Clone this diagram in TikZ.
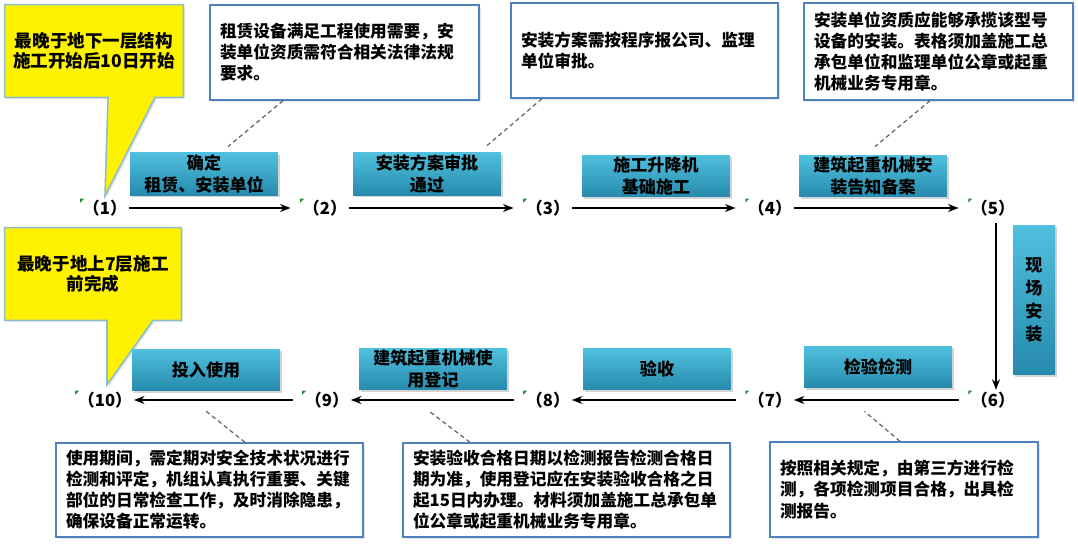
\documentclass[tikz,border=0pt]{standalone}
\usepackage{fontspec}
\setmainfont{Noto Sans CJK SC}
\usetikzlibrary{arrows.meta,shadows,backgrounds}

\definecolor{stepTop}{RGB}{80,192,222}
\definecolor{stepBot}{RGB}{38,138,172}
\definecolor{noteLine}{RGB}{79,129,189}
\definecolor{lateLine}{RGB}{140,190,205}
\definecolor{flagGreen}{RGB}{40,140,50}

\begin{document}
\begin{tikzpicture}[x=0.02cm, y=-0.02cm,
  stepbox/.style  = {top color=stepTop, bottom color=stepBot, draw=none,
                     minimum width=2.96cm, minimum height=0.84cm, inner sep=1pt,
                     align=center, font=\bfseries\fontsize{9.7}{12.5}\selectfont,
                     drop shadow={shadow xshift=1.2pt, shadow yshift=-1.2pt, opacity=.35}},
  note/.style     = {draw=noteLine, line width=0.8pt, fill=white, inner xsep=0.2cm,
                     inner ysep=0pt, align=left, minimum height=1.9cm,
                     font=\bfseries\fontsize{9.5}{12}\selectfont,
                     drop shadow={shadow xshift=1pt, shadow yshift=-1pt, opacity=.2}},
  late/.style     = {inner sep=0pt, minimum width=3.56cm, minimum height=1.84cm,
                     align=center, font=\bfseries\fontsize{10}{11.5}\selectfont},
  latefill/.style = {fill=yellow, draw=lateLine, line width=0.9pt,
                     drop shadow={shadow xshift=1pt, shadow yshift=-1pt, opacity=.2}},
  num/.style      = {inner sep=1pt, font=\bfseries\fontsize{9.5}{9.5}\selectfont},
  flow/.style     = {line width=1pt, -{Stealth[length=6pt,width=4.5pt]}},
  hint/.style     = {draw=black!60, line width=0.7pt, dash pattern=on 2.5pt off 1.8pt},
  flag/.style     = {fill=flagGreen},
]
  \useasboundingbox (0,0) rectangle (1078,550);

  % step numbers
  \node[num] (n1)  at (105,208) {（1）};
  \node[num] (n2)  at (325,208) {（2）};
  \node[num] (n3)  at (548,208) {（3）};
  \node[num] (n4)  at (770,208) {（4）};
  \node[num] (n5)  at (993,208) {（5）};
  \node[num] (n6)  at (993,400) {（6）};
  \node[num] (n7)  at (770,400) {（7）};
  \node[num] (n8)  at (548,400) {（8）};
  \node[num] (n9)  at (327,400) {（9）};
  \node[num] (n10) at (105,400) {（10）};

  \foreach \n in {n1,n2,n3,n4,n5,n6,n7,n8,n9,n10}
    \fill[flag] ([xshift=-0.5pt,yshift=-0.5pt]\n.north west) -- ++(4,0) -- ++(-4,4) -- cycle;

  \draw[flow, shorten >=6pt] (n1) -- (n2);
  \draw[flow, shorten >=6pt] (n2) -- (n3);
  \draw[flow, shorten >=6pt] (n3) -- (n4);
  \draw[flow, shorten >=6pt] (n4) -- (n5);
  \draw[flow, shorten <=3pt] ([xshift=0.06cm]n5.south) -- ([xshift=0.06cm]n6.north);
  \draw[flow, shorten <=6pt] (n6) -- (n7);
  \draw[flow, shorten <=6pt] (n7) -- (n8);
  \draw[flow, shorten <=6pt] (n8) -- (n9);
  \draw[flow, shorten <=6pt] (n9) -- (n10);

  % activities
  \node[stepbox] (s1) at (204,174) {确定\\租赁、安装单位};
  \node[stepbox] (s2) at (427,174) {安装方案审批\\通过};
  \node[stepbox] (s3) at (656,176) {施工升降机\\基础施工};
  \node[stepbox] (s4) at (873,176) {建筑起重机械安\\装告知备案};
  \node[stepbox, minimum width=0.84cm, minimum height=3cm,
        font=\bfseries\fontsize{9.7}{13}\selectfont] (s5) at (1034,300) {现\\场\\安\\装};
  \node[stepbox] (s6) at (878,367) {检验检测};
  \node[stepbox] (s7) at (657,369) {验收};
  \node[stepbox] (s8) at (433,369) {建筑起重机械使\\用登记};
  \node[stepbox] (s9) at (206,370) {投入使用};

  % remarks
  \node[note, text width=4.98cm] (r1) at (344.5,52.5)
    {租赁设备满足工程使用需要，安\\装单位资质需符合相关法律法规\\要求。};
  \node[note, text width=4.94cm] (r2) at (644.5,50.5)
    {安装方案需按程序报公司、监理\\单位审批。};
  \node[note, text width=4.98cm, minimum height=1.94cm] (r3) at (938.5,51.5)
    {安装单位资质应能够承揽该型号\\设备的安装。表格须加盖施工总\\承包单位和监理单位公章或起重\\机械业务专用章。};
  \node[note, text width=5.74cm, minimum height=1.88cm] (r4) at (209.5,490)
    {使用期间，需定期对安全技术状况进行\\检测和评定，机组认真执行重要、关键\\部位的日常检查工作，及时消除隐患，\\确保设备正常运转。};
  \node[note, text width=6.14cm, minimum height=1.88cm] (r5) at (566.5,490)
    {安装验收合格日期以检测报告检测合格日\\期为准，使用登记应在安装验收合格之日\\起15日内办理。材料须加盖施工总承包单\\位公章或起重机械业务专用章。};
  \node[note, text width=4.96cm] (r6) at (904,489.5)
    {按照相关规定，由第三方进行检\\测，各项检测项目合格，出具检\\测报告。};

  \draw[hint] ([xshift=-1.23cm]r1.south) -- ([xshift=0.48cm,yshift=0.12cm]s1.north);
  \draw[hint] ([xshift=-2.05cm]r2.south) -- ([xshift=1.2cm,yshift=0.14cm]s2.north);
  \draw[hint] ([xshift=-0.17cm]r3.south) -- ([xshift=0.04cm,yshift=0.16cm]s4.north);
  \draw[hint] ([xshift=0.71cm]r4.north)  -- ([xshift=-0.02cm,yshift=-0.38cm]s9.south);
  \draw[hint] ([xshift=-1.93cm]r5.north) -- ([xshift=-0.1cm,yshift=-0.4cm]s8.south);
  \draw[hint] ([xshift=-0.08cm]r6.north) -- ([xshift=-0.27cm,yshift=-0.46cm]s6.south);

  % deadlines
  \node[late] (late1) at (94,51) {最晚于地下一层结构\\施工开始后10日开始};
  \node[late, minimum width=3.52cm] (late2) at (93,274) {最晚于地上7层施工\\前完成};
  \begin{scope}[on background layer]
    \draw[latefill] (late1.north west) -- (late1.north east) -- (late1.south east)
      -- ([xshift=1.22cm]late1.south) -- ([yshift=0.04cm]n1.north)
      -- ([xshift=0.28cm]late1.south) -- (late1.south west) -- cycle;
    \draw[latefill] (late2.north west) -- (late2.north east) -- (late2.south east)
      -- ([xshift=1.2cm]late2.south) -- ([xshift=0.04cm,yshift=0.1cm]n10.north)
      -- ([xshift=0.28cm]late2.south) -- (late2.south west) -- cycle;
  \end{scope}
\end{tikzpicture}
\end{document}
